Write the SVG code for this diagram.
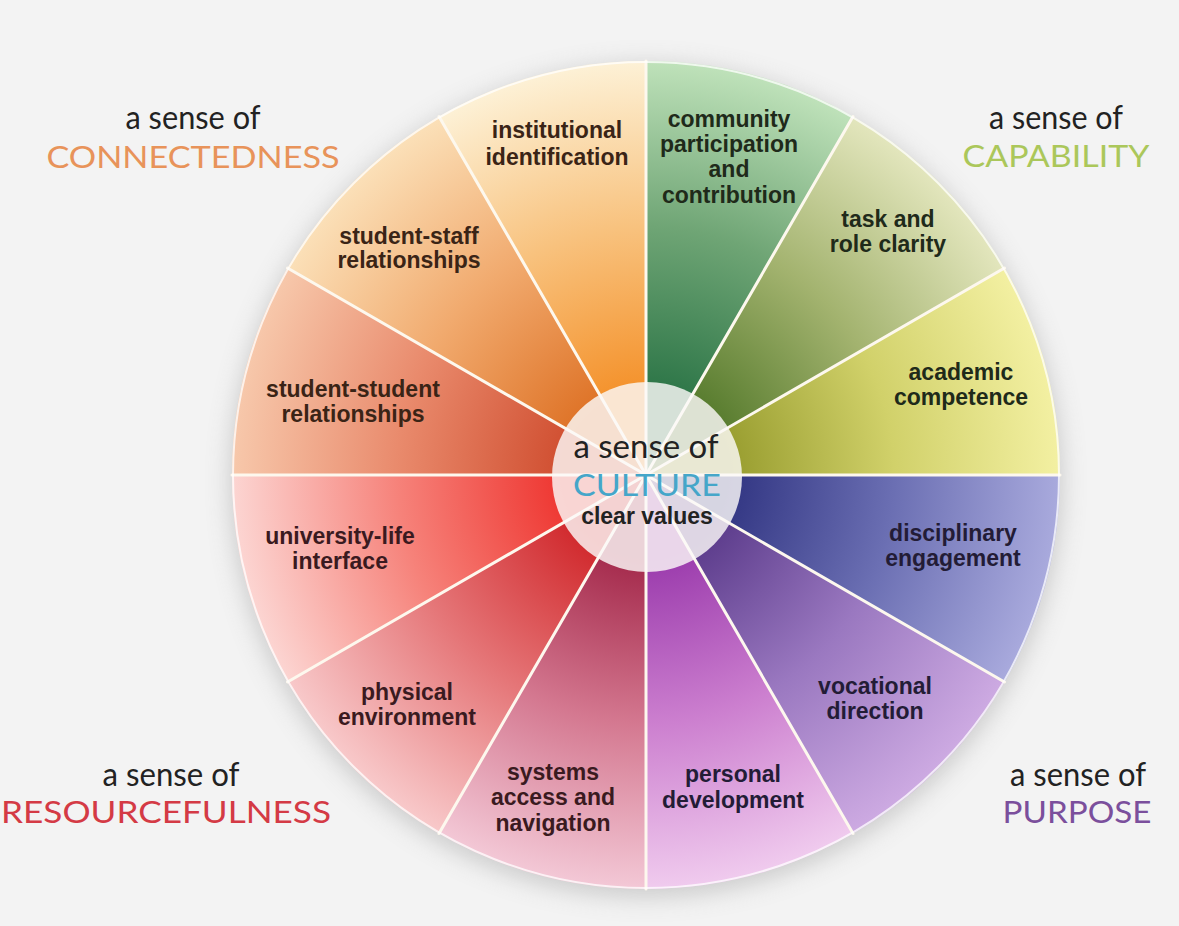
<svg xmlns="http://www.w3.org/2000/svg" width="1179" height="926" viewBox="0 0 1179 926">
  <style>
    .lbl { font-family: "Liberation Sans", Arial, sans-serif; font-weight: 700; font-size: 23px; text-anchor: middle; }
    .sense { font-family: Lato, "Open Sans", sans-serif; font-size: 32px; fill: #222; text-anchor: middle; }
    .caps { font-family: Lato, "Open Sans", sans-serif; font-size: 30px; text-anchor: middle; }
    .div { stroke: #fdf8ee; stroke-width: 3; stroke-linecap: round; }
    .or { fill: #3a2416; }
    .gr { fill: #1f2a1a; }
    .pu { fill: #231c36; }
    .rd { fill: #3a1a20; }
  </style>
  <defs>
    <filter id="shadow" x="-20%" y="-20%" width="140%" height="140%">
      <feGaussianBlur stdDeviation="12"/>
    </filter>
    <!-- one radial ramp per segment: saturated near the hub, pale at the rim -->
    <radialGradient id="g1" gradientUnits="userSpaceOnUse" cx="646" cy="475" r="414">
      <stop offset="0.2" stop-color="#2c7547"/><stop offset="0.6" stop-color="#6fa575"/><stop offset="1" stop-color="#bfe2ba"/>
    </radialGradient>
    <radialGradient id="g2" gradientUnits="userSpaceOnUse" cx="646" cy="475" r="414">
      <stop offset="0.2" stop-color="#557a2c"/><stop offset="0.6" stop-color="#a3b36f"/><stop offset="1" stop-color="#e3e6bd"/>
    </radialGradient>
    <radialGradient id="g3" gradientUnits="userSpaceOnUse" cx="646" cy="475" r="414">
      <stop offset="0.2" stop-color="#979c2e"/><stop offset="0.6" stop-color="#d1d16a"/><stop offset="1" stop-color="#f3f0a2"/>
    </radialGradient>
    <radialGradient id="g4" gradientUnits="userSpaceOnUse" cx="646" cy="475" r="414">
      <stop offset="0.2" stop-color="#313582"/><stop offset="0.6" stop-color="#6b6fb3"/><stop offset="1" stop-color="#a9aadd"/>
    </radialGradient>
    <radialGradient id="g5" gradientUnits="userSpaceOnUse" cx="646" cy="475" r="414">
      <stop offset="0.2" stop-color="#5a3a8a"/><stop offset="0.6" stop-color="#9a78c0"/><stop offset="1" stop-color="#cdaae2"/>
    </radialGradient>
    <radialGradient id="g6" gradientUnits="userSpaceOnUse" cx="646" cy="475" r="414">
      <stop offset="0.2" stop-color="#9a3aac"/><stop offset="0.6" stop-color="#cc7fcf"/><stop offset="1" stop-color="#f0cbee"/>
    </radialGradient>
    <radialGradient id="g7" gradientUnits="userSpaceOnUse" cx="646" cy="475" r="414">
      <stop offset="0.2" stop-color="#a3284a"/><stop offset="0.6" stop-color="#d47890"/><stop offset="1" stop-color="#f3c8d6"/>
    </radialGradient>
    <radialGradient id="g8" gradientUnits="userSpaceOnUse" cx="646" cy="475" r="414">
      <stop offset="0.2" stop-color="#d0262a"/><stop offset="0.6" stop-color="#e57678"/><stop offset="1" stop-color="#f8c9ca"/>
    </radialGradient>
    <radialGradient id="g9" gradientUnits="userSpaceOnUse" cx="646" cy="475" r="414">
      <stop offset="0.2" stop-color="#ee3530"/><stop offset="0.6" stop-color="#f6827a"/><stop offset="1" stop-color="#fcd5d2"/>
    </radialGradient>
    <radialGradient id="g10" gradientUnits="userSpaceOnUse" cx="646" cy="475" r="414">
      <stop offset="0.2" stop-color="#d04e30"/><stop offset="0.6" stop-color="#e98a6c"/><stop offset="1" stop-color="#f7c8ab"/>
    </radialGradient>
    <radialGradient id="g11" gradientUnits="userSpaceOnUse" cx="646" cy="475" r="414">
      <stop offset="0.2" stop-color="#de7226"/><stop offset="0.6" stop-color="#f1aa6e"/><stop offset="1" stop-color="#fbe0b8"/>
    </radialGradient>
    <radialGradient id="g12" gradientUnits="userSpaceOnUse" cx="646" cy="475" r="414">
      <stop offset="0.2" stop-color="#f4912a"/><stop offset="0.6" stop-color="#f8c27e"/><stop offset="1" stop-color="#fdf1d6"/>
    </radialGradient>
  </defs>

  <!-- page -->
  <rect width="1179" height="926" fill="#f3f3f3"/>
  <circle cx="646" cy="481" r="416" fill="#9a9a9a" opacity="0.45" filter="url(#shadow)"/>

  <!-- wheel segments, clockwise from 12 o'clock -->
  <g id="seg-community">
    <path d="M646 475 L646 61 A414 414 0 0 1 853 116.5 Z" fill="url(#g1)"/>
    <text class="lbl gr" x="729" y="127">community</text>
    <text class="lbl gr" x="729" y="152">participation</text>
    <text class="lbl gr" x="729" y="177">and</text>
    <text class="lbl gr" x="729" y="203">contribution</text>
  </g>
  <g id="seg-task">
    <path d="M646 475 L853 116.5 A414 414 0 0 1 1004.5 268 Z" fill="url(#g2)"/>
    <text class="lbl gr" x="888" y="227">task and</text>
    <text class="lbl gr" x="888" y="252">role clarity</text>
  </g>
  <g id="seg-academic">
    <path d="M646 475 L1004.5 268 A414 414 0 0 1 1060 475 Z" fill="url(#g3)"/>
    <text class="lbl gr" x="961" y="380">academic</text>
    <text class="lbl gr" x="961" y="405">competence</text>
  </g>
  <g id="seg-disciplinary">
    <path d="M646 475 L1060 475 A414 414 0 0 1 1004.5 682 Z" fill="url(#g4)"/>
    <text class="lbl pu" x="953" y="541">disciplinary</text>
    <text class="lbl pu" x="953" y="566">engagement</text>
  </g>
  <g id="seg-vocational">
    <path d="M646 475 L1004.5 682 A414 414 0 0 1 853 833.5 Z" fill="url(#g5)"/>
    <text class="lbl pu" x="875" y="694">vocational</text>
    <text class="lbl pu" x="875" y="719">direction</text>
  </g>
  <g id="seg-personal">
    <path d="M646 475 L853 833.5 A414 414 0 0 1 646 889 Z" fill="url(#g6)"/>
    <text class="lbl pu" x="733" y="782">personal</text>
    <text class="lbl pu" x="733" y="808">development</text>
  </g>
  <g id="seg-systems">
    <path d="M646 475 L646 889 A414 414 0 0 1 439 833.5 Z" fill="url(#g7)"/>
    <text class="lbl rd" x="553" y="780">systems</text>
    <text class="lbl rd" x="553" y="805">access and</text>
    <text class="lbl rd" x="553" y="831">navigation</text>
  </g>
  <g id="seg-physical">
    <path d="M646 475 L439 833.5 A414 414 0 0 1 287.5 682 Z" fill="url(#g8)"/>
    <text class="lbl rd" x="407" y="700">physical</text>
    <text class="lbl rd" x="407" y="725">environment</text>
  </g>
  <g id="seg-university-life">
    <path d="M646 475 L287.5 682 A414 414 0 0 1 232 475 Z" fill="url(#g9)"/>
    <text class="lbl rd" x="340" y="544">university-life</text>
    <text class="lbl rd" x="340" y="569">interface</text>
  </g>
  <g id="seg-student-student">
    <path d="M646 475 L232 475 A414 414 0 0 1 287.5 268 Z" fill="url(#g10)"/>
    <text class="lbl or" x="353" y="397">student-student</text>
    <text class="lbl or" x="353" y="422">relationships</text>
  </g>
  <g id="seg-student-staff">
    <path d="M646 475 L287.5 268 A414 414 0 0 1 439 116.5 Z" fill="url(#g11)"/>
    <text class="lbl or" x="409" y="244">student-staff</text>
    <text class="lbl or" x="409" y="268">relationships</text>
  </g>
  <g id="seg-institutional">
    <path d="M646 475 L439 116.5 A414 414 0 0 1 646 61 Z" fill="url(#g12)"/>
    <text class="lbl or" x="557" y="138">institutional</text>
    <text class="lbl or" x="557" y="165">identification</text>
  </g>

  <!-- spokes and rim -->
  <g id="dividers">
    <line class="div" x1="646" y1="475" x2="646" y2="61"/>
    <line class="div" x1="646" y1="475" x2="853" y2="116.5"/>
    <line class="div" x1="646" y1="475" x2="1004.5" y2="268"/>
    <line class="div" x1="646" y1="475" x2="1060" y2="475"/>
    <line class="div" x1="646" y1="475" x2="1004.5" y2="682"/>
    <line class="div" x1="646" y1="475" x2="853" y2="833.5"/>
    <line class="div" x1="646" y1="475" x2="646" y2="889"/>
    <line class="div" x1="646" y1="475" x2="439" y2="833.5"/>
    <line class="div" x1="646" y1="475" x2="287.5" y2="682"/>
    <line class="div" x1="646" y1="475" x2="232" y2="475"/>
    <line class="div" x1="646" y1="475" x2="287.5" y2="268"/>
    <line class="div" x1="646" y1="475" x2="439" y2="116.5"/>
    <circle cx="646" cy="475" r="413" fill="none" stroke="#ffffff" stroke-opacity="0.75" stroke-width="2"/>
  </g>

  <!-- hub -->
  <g id="hub-culture">
    <circle cx="647" cy="477" r="95" fill="#fbf9f8" fill-opacity="0.82"/>
    <text class="sense" x="646" y="458" font-size="34" textLength="145" lengthAdjust="spacingAndGlyphs">a sense of</text>
    <text class="caps" x="647" y="496" fill="#45a6c9" font-size="29" textLength="148" lengthAdjust="spacingAndGlyphs">CULTURE</text>
    <text class="lbl" x="647" y="524" fill="#222" font-size="21.5">clear values</text>
  </g>

  <!-- quadrant headings -->
  <g id="label-connectedness">
    <text class="sense" x="193" y="129" textLength="135" lengthAdjust="spacingAndGlyphs">a sense of</text>
    <text class="caps" x="193" y="168" fill="#e8935a" textLength="293" lengthAdjust="spacingAndGlyphs">CONNECTEDNESS</text>
  </g>
  <g id="label-capability">
    <text class="sense" x="1056" y="129" textLength="134" lengthAdjust="spacingAndGlyphs">a sense of</text>
    <text class="caps" x="1056" y="167" fill="#abc75a" textLength="187" lengthAdjust="spacingAndGlyphs">CAPABILITY</text>
  </g>
  <g id="label-resourcefulness">
    <text class="sense" x="171" y="786" textLength="137" lengthAdjust="spacingAndGlyphs">a sense of</text>
    <text class="caps" x="166" y="823" fill="#d43a45" textLength="330" lengthAdjust="spacingAndGlyphs">RESOURCEFULNESS</text>
  </g>
  <g id="label-purpose">
    <text class="sense" x="1078" y="786" textLength="136" lengthAdjust="spacingAndGlyphs">a sense of</text>
    <text class="caps" x="1077" y="823" fill="#7b4f9c" textLength="149" lengthAdjust="spacingAndGlyphs">PURPOSE</text>
  </g>
</svg>
